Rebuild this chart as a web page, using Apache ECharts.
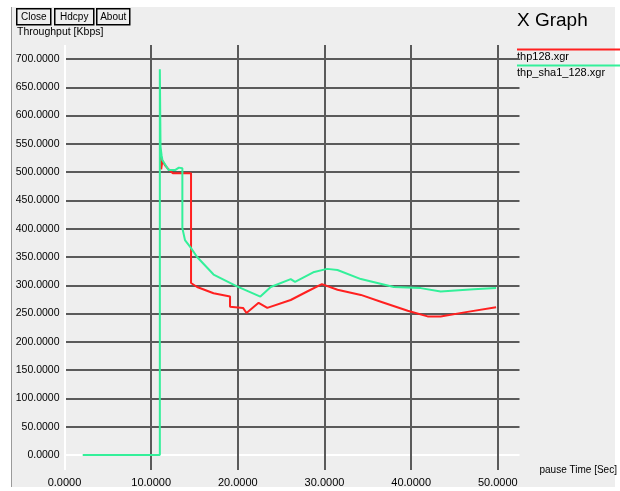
<!DOCTYPE html>
<html>
<head>
<meta charset="utf-8">
<title>X Graph</title>
<script src="https://cdn.jsdelivr.net/npm/echarts@6.0.0/dist/echarts.min.js"></script>
<style>
  html, body { margin: 0; padding: 0; background: #ffffff; }
  #chart { width: 620px; height: 491px; }
</style>
</head>
<body>
<div id="chart"></div>
<script>
// values
var xTicks = [0, 10, 20, 30, 40, 50];
var yTicks = [0, 50, 100, 150, 200, 250, 300, 350, 400, 450, 500, 550, 600, 650, 700];

// thp128.xgr
var redTime = [11.1, 11.15, 11.3, 11.6, 12.0, 12.5, 14.6, 14.6, 15.3, 17.2, 19.1, 19.1, 20.6, 21.0, 22.4, 23.4, 26.1, 28.0, 29.7, 31.5, 34.2, 36.5, 39.6, 41.9, 43.4, 46.5, 49.8];
var redThp  = [528, 505, 520, 512, 505, 498, 498, 304, 297, 286, 280, 262, 260, 251, 269, 260, 274, 289, 302, 292, 283, 271, 255, 245, 245, 253, 261];

// thp_sha1_128.xgr
var greenTime = [2.1, 11.0, 11.0, 11.08, 11.2, 11.3, 12.0, 12.8, 13.2, 13.6, 13.6, 13.9, 14.5, 15.3, 17.2, 19.9, 22.6, 23.8, 26.1, 26.6, 28.7, 30.3, 31.5, 34.2, 36.1, 38.0, 41.1, 43.4, 47.2, 49.8];
var greenThp  = [0, 0, 682, 545, 530, 521, 504, 504, 508, 507, 401, 380, 368, 350, 319, 298, 280, 297, 311, 306, 323, 329, 327, 311, 304, 297, 295, 289, 293, 295];

function pairs(xs, ys) {
  var out = [];
  for (var i = 0; i < xs.length; i++) out.push([xs[i], ys[i]]);
  return out;
}

var gridColor = '#5a5a5a';
var font = 'Liberation Sans, Arial, sans-serif';

// first split line (the zero line) is white, the rest dark
var ySplitColors = yTicks.map(function (v) { return v === 0 ? '#ffffff' : gridColor; });
var xSplitColors = xTicks.map(function (v) { return v === 0 ? '#ffffff' : gridColor; });
xSplitColors.push('rgba(0,0,0,0)'); // extent end at 52.5, no line there

function button(x, w, label) {
  return {
    type: 'group', left: x, top: 8,
    children: [
      { type: 'rect', shape: { x: 0, y: 0, width: w, height: 16 },
        style: { fill: '#eeeeee', stroke: '#000', lineWidth: 1.5 } },
      { type: 'text', x: w / 2, y: 8,
        style: { text: label, font: '10px ' + font, fill: '#000', align: 'center', verticalAlign: 'middle' } }
    ]
  };
}

var chart = echarts.init(document.getElementById('chart'), null, { renderer: 'canvas' });

chart.setOption({
  backgroundColor: '#ffffff',
  animation: false,
  graphic: [
    { type: 'rect', z: -10, shape: { x: 11, y: 7, width: 604, height: 480 },
      style: { fill: '#eeeeee' } },
    { type: 'line', z: -9, shape: { x1: 11.5, y1: 7, x2: 11.5, y2: 487 },
      style: { stroke: '#9a9a9a', lineWidth: 1 } },
    button(16, 34, 'Close'),
    button(54, 39, 'Hdcpy'),
    button(96, 33, 'About'),
    { type: 'text', left: 17, top: 27,
      style: { text: 'Throughput [Kbps]', font: '10.5px ' + font, fill: '#000' } },
    { type: 'text', left: 517, top: 11,
      style: { text: 'X Graph', font: '19px ' + font, fill: '#000' } },
    { type: 'line', shape: { x1: 517, y1: 49.5, x2: 620, y2: 49.5 },
      style: { stroke: '#ff2020', lineWidth: 2 } },
    { type: 'text', left: 517, top: 51,
      style: { text: 'thp128.xgr', font: '11px ' + font, fill: '#000' } },
    { type: 'line', shape: { x1: 517, y1: 65.5, x2: 620, y2: 65.5 },
      style: { stroke: '#33f09a', lineWidth: 2 } },
    { type: 'text', left: 517, top: 67,
      style: { text: 'thp_sha1_128.xgr', font: '11px ' + font, fill: '#000' } }
  ],
  grid: [
    { left: 64.5, right: 100.5, top: 59, bottom: 36 },
    { left: 64.5, right: 100.5, top: 45, bottom: 21 }
  ],
  xAxis: [
    { gridIndex: 0, type: 'value', min: 0, max: 52.5, show: false },
    {
      gridIndex: 1, type: 'value', min: 0, max: 52.5, interval: 10,
      name: 'pause Time [Sec]', nameLocation: 'end', nameGap: 20,
      nameTextStyle: { fontFamily: font, fontSize: 10, color: '#000', verticalAlign: 'middle' },
      axisLine: { show: false },
      axisTick: { show: false },
      axisLabel: {
        margin: 7, fontFamily: font, fontSize: 11, color: '#000',
        showMaxLabel: false,
        formatter: function (v) { return xTicks.indexOf(v) >= 0 ? v.toFixed(4) : ''; }
      },
      splitLine: { show: true, lineStyle: { color: xSplitColors, width: 2 } }
    }
  ],
  yAxis: [
    {
      gridIndex: 0, type: 'value', min: 0, max: 700, interval: 50,
      axisLine: { show: false },
      axisTick: { show: false },
      axisLabel: {
        margin: 5, fontFamily: font, fontSize: 10.5, color: '#000',
        formatter: function (v) { return v.toFixed(4); }
      },
      splitLine: { show: true, lineStyle: { color: ySplitColors, width: 2 } }
    },
    { gridIndex: 1, type: 'value', min: 0, max: 1, show: false, splitLine: { show: false } }
  ],
  series: [
    {
      name: 'thp128.xgr', type: 'line', xAxisIndex: 0, yAxisIndex: 0,
      data: pairs(redTime, redThp), symbol: 'none', z: 3,
      lineStyle: { color: '#ff2020', width: 2 }
    },
    {
      name: 'thp_sha1_128.xgr', type: 'line', xAxisIndex: 0, yAxisIndex: 0,
      data: pairs(greenTime, greenThp), symbol: 'none', z: 4,
      lineStyle: { color: '#33f09a', width: 2 }
    }
  ]
});
</script>
</body>
</html>
